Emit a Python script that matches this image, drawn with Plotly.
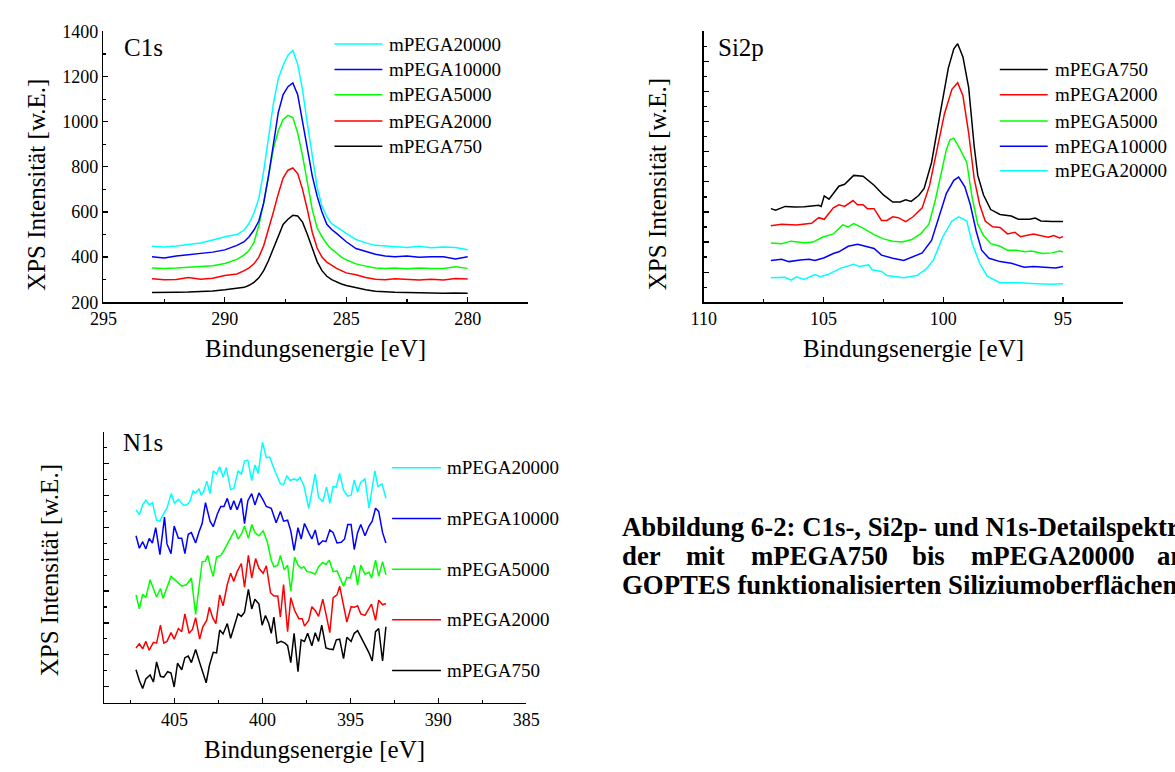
import plotly.graph_objects as go

W, H = 1175, 772
FONT = "Liberation Serif"

names = ["mPEGA750", "mPEGA2000", "mPEGA5000", "mPEGA10000", "mPEGA20000"]
colors = {"mPEGA750": "#000000", "mPEGA2000": "#ff0000", "mPEGA5000": "#00ff00",
          "mPEGA10000": "#0000ff", "mPEGA20000": "#00ffff"}

# ---------------- C1s ----------------
c1s_ev = [293.0, 292.5, 292.0, 291.5, 291.0, 290.5, 290.0, 289.5, 289.2, 289.0, 288.8, 288.6, 288.4,
          288.2, 288.0, 287.8, 287.6, 287.4, 287.2, 287.0, 286.8, 286.6, 286.4, 286.2, 286.0, 285.8,
          285.6, 285.4, 285.2, 285.0, 284.6, 284.2, 283.8, 283.4, 283.0, 282.5, 282.0, 281.5, 281.0,
          280.5, 280.0]
c1s_750 = [243, 242, 244, 245, 247, 250, 255, 260, 266, 275, 288, 308, 340, 385, 440, 498, 545, 568, 585,
           582, 555, 500, 440, 380, 340, 315, 300, 289, 281, 274, 264, 255, 249, 246, 244, 243, 241, 242,
           240, 241, 240]
c1s_2000 = [304, 300, 301, 310, 302, 306, 318, 325, 340, 352, 370, 400, 450, 520, 600, 680, 750, 785, 795,
            770, 700, 610, 510, 440, 400, 378, 362, 350, 340, 330, 322, 310, 302, 300, 304, 300, 298, 302,
            299, 305, 303]
c1s_5000 = [352, 350, 352, 355, 358, 362, 372, 390, 410, 430, 465, 540, 640, 770, 880, 960, 1010, 1028,
            1018, 950, 850, 730, 610, 530, 490, 458, 435, 418, 400, 388, 370, 360, 352, 350, 352, 348, 352,
            350, 350, 357, 350]
c1s_10000 = [402, 396, 405, 410, 415, 422, 432, 452, 468, 490, 520, 560, 640, 760, 900, 1040, 1120, 1155,
             1172, 1120, 1000, 880, 760, 670, 600, 545, 522, 505, 485, 468, 438, 425, 413, 405, 402, 405,
             399, 402, 402, 392, 402]
c1s_20000 = [448, 445, 449, 455, 462, 476, 490, 500, 520, 550, 595, 660, 780, 930, 1080, 1190, 1250, 1295,
             1316, 1255, 1140, 990, 850, 710, 625, 578, 548, 533, 518, 505, 478, 463, 452, 448, 445, 442,
             448, 441, 445, 442, 433]

# ---------------- Si2p (arbitrary units) ----------------
si_750_ev = [107.2, 107.0, 106.6, 106.2, 105.8, 105.2, 105.1, 104.97, 104.77, 104.36, 104.12, 103.74,
             103.35, 102.89, 102.5, 102.11, 101.8, 101.57, 101.34, 101.03, 100.8, 100.49, 100.18, 99.79,
             99.56, 99.4, 99.18, 98.94, 98.71, 98.56, 98.32, 98.02, 97.63, 97.16, 96.86, 96.4, 96.16,
             95.93, 95.46, 95.0]
si_750 = [6.22, 6.12, 6.37, 6.33, 6.35, 6.44, 6.37, 7.07, 6.85, 7.71, 7.84, 8.43, 8.38, 7.78, 7.13, 6.66,
          6.66, 6.81, 6.70, 7.09, 7.56, 9.29, 12.1, 15.56, 16.85, 17.18, 16.31, 14.26, 10.37, 8.43, 7.13,
          6.16, 5.83, 5.73, 5.51, 5.51, 5.6, 5.40, 5.36, 5.36]
si_2000_ev = [107.2, 106.75, 106.13, 105.5, 105.2, 104.97, 104.59, 104.36, 104.12, 103.77, 103.58, 103.35,
              103.17, 102.89, 102.58, 102.35, 102.11, 101.88, 101.57, 101.26, 100.88, 100.57, 100.26,
              99.95, 99.64, 99.4, 99.18, 98.94, 98.71, 98.48, 98.25, 97.94, 97.63, 97.32, 97.01, 96.78,
              96.24, 95.62, 95.39, 95.15, 95.0]
si_2000 = [5.08, 5.19, 5.14, 5.25, 5.62, 5.51, 6.27, 6.48, 6.37, 6.76, 6.48, 6.48, 6.22, 6.22, 5.44, 5.44,
           5.68, 5.62, 5.36, 5.68, 6.27, 7.78, 10.16, 12.53, 14.15, 14.59, 13.72, 11.24, 8.21, 6.48, 5.40,
           5.01, 4.97, 4.54, 4.65, 4.36, 4.54, 4.32, 4.43, 4.28, 4.36]
si_5000_ev = [107.2, 106.75, 106.36, 105.8, 105.44, 105.05, 104.59, 104.2, 103.97, 103.74, 103.35, 102.89,
              102.5, 102.11, 101.72, 101.34, 100.95, 100.6, 100.33, 100.1, 99.87, 99.72, 99.56, 99.33,
              99.02, 98.79, 98.56, 98.32, 98.02, 97.63, 97.32, 96.93, 96.62, 96.31, 95.85, 95.46, 95.15,
              95.0]
si_5000 = [3.93, 3.89, 4.06, 3.95, 4.0, 4.32, 4.54, 5.14, 5.01, 5.23, 4.93, 4.49, 4.21, 4.06, 4.0, 4.15,
           4.54, 5.19, 6.81, 8.43, 10.16, 10.80, 10.91, 10.26, 9.29, 6.91, 5.19, 4.43, 3.89, 3.72, 3.46,
           3.46, 3.35, 3.41, 3.24, 3.28, 3.41, 3.35]
si_10000_ev = [107.2, 106.75, 106.44, 105.98, 105.6, 105.36, 104.97, 104.59, 104.36, 103.97, 103.58,
               103.2, 102.89, 102.58, 102.11, 101.65, 101.34, 100.88, 100.49, 100.18, 99.87, 99.56, 99.36,
               99.1, 98.87, 98.63, 98.4, 98.09, 97.63, 97.16, 96.62, 96.24, 95.77, 95.31, 95.0]
si_10000 = [2.77, 2.85, 2.70, 2.81, 2.85, 2.77, 2.96, 3.24, 3.35, 3.72, 3.85, 3.67, 3.57, 3.13, 2.92, 2.77,
            2.98, 3.28, 4.11, 5.62, 7.24, 8.10, 8.32, 7.67, 6.48, 4.75, 3.46, 2.92, 2.70, 2.59, 2.33, 2.38,
            2.31, 2.27, 2.38]
si_20000_ev = [107.2, 106.6, 106.36, 106.13, 105.82, 105.36, 105.13, 104.82, 104.28, 103.74, 103.5,
               103.12, 102.97, 102.58, 102.35, 101.65, 101.1, 100.72, 100.41, 100.03, 99.64, 99.36, 99.02,
               98.79, 98.48, 98.17, 97.63, 96.86, 96.08, 95.46, 95.0]
si_20000 = [1.62, 1.66, 1.47, 1.69, 1.51, 1.84, 1.69, 1.84, 2.27, 2.53, 2.38, 2.48, 2.16, 2.05, 1.77, 1.62,
            1.77, 2.20, 2.81, 4.32, 5.40, 5.68, 5.40, 3.89, 2.59, 1.73, 1.30, 1.30, 1.23, 1.19, 1.23]

# ---------------- N1s (arbitrary units) ----------------
n_20000_ev = [407.19, 407.0, 406.81, 406.63, 406.44, 406.26, 406.02, 405.83, 405.65, 405.43,
              405.19, 405.0, 404.78, 404.5, 404.31, 404.13, 403.94, 403.8, 403.61, 403.48,
              403.35, 403.17, 402.98, 402.8, 402.61, 402.43, 402.24, 402.06, 401.81, 401.63,
              401.39, 401.2, 401.02, 400.83, 400.61, 400.43, 400.24, 400.0, 399.78, 399.59,
              399.31, 398.98, 398.8, 398.61, 398.43, 398.2, 398.02, 397.87, 397.65, 397.37,
              397.0, 396.81, 396.57, 396.35, 396.17, 395.98, 395.8, 395.61, 395.39, 395.15,
              394.96, 394.78, 394.59, 394.41, 394.17, 393.94, 393.61, 393.43, 393.2, 392.98]
n_20000 = [12.10, 11.80, 12.41, 12.71, 12.41, 12.55, 11.45, 11.39, 11.80, 12.20,
           13.12, 12.51, 12.76, 12.41, 12.41, 12.61, 13.29, 13.16, 13.43, 13.02,
           13.22, 13.90, 13.12, 14.55, 14.35, 14.80, 14.14, 14.76, 13.37, 13.43,
           14.55, 14.35, 15.16, 15.22, 13.94, 14.92, 14.39, 16.35, 15.37, 15.41,
           14.59, 13.73, 13.69, 14.24, 13.94, 14.04, 13.94, 14.14, 13.63, 12.20,
           14.35, 12.88, 12.61, 13.53, 12.51, 13.57, 13.53, 14.39, 13.33, 12.96,
           13.02, 13.98, 13.22, 13.84, 14.04, 12.20, 14.55, 13.57, 13.73, 12.82]
n_10000_ev = [407.19, 407.0, 406.81, 406.63, 406.44, 406.26, 406.07, 405.83, 405.57, 405.43,
              405.2, 405.02, 404.78, 404.59, 404.41, 404.22, 404.04, 403.8, 403.61, 403.43,
              403.24, 402.98, 402.8, 402.56, 402.37, 402.19, 402.0, 401.81, 401.63, 401.44,
              401.2, 401.02, 400.83, 400.61, 400.43, 400.2, 399.96, 399.78, 399.5, 399.22,
              398.98, 398.8, 398.57, 398.39, 398.2, 397.98, 397.8, 397.61, 397.37, 397.19,
              397.0, 396.81, 396.57, 396.39, 396.17, 395.98, 395.76, 395.52, 395.33, 395.15,
              394.96, 394.78, 394.59, 394.41, 394.17, 393.94, 393.76, 393.57, 393.39, 393.17, 392.98]
n_10000 = [10.47, 9.69, 10.10, 9.65, 10.31, 10.02, 10.98, 9.29, 11.65, 9.96,
           9.35, 11.08, 10.31, 10.31, 9.35, 10.57, 10.67, 10.02, 10.71, 11.24,
           12.55, 11.39, 11.04, 11.86, 12.31, 12.31, 12.82, 12.10, 12.67, 12.10,
           12.82, 11.24, 12.67, 13.12, 12.41, 13.16, 12.71, 12.31, 12.20, 11.29,
           12.0, 11.39, 11.45, 10.78, 9.55, 10.98, 10.27, 11.24, 10.67, 10.27,
           10.84, 9.90, 10.16, 10.10, 10.84, 10.67, 10.02, 10.06, 10.27, 11.18,
           11.18, 9.61, 10.67, 11.18, 10.47, 11.08, 11.39, 12.20, 12.0, 10.67, 10.02]
n_5000_ev = [407.19, 407.0, 406.81, 406.63, 406.39, 406.2, 406.02, 405.8, 405.65, 405.2,
             404.91, 404.59, 404.31, 404.04, 403.8, 403.57, 403.43, 403.24, 403.11, 402.98,
             402.8, 402.61, 402.37, 402.19, 402.0, 401.81, 401.57, 401.39, 401.2, 401.02,
             400.8, 400.61, 400.43, 400.2, 399.96, 399.72, 399.5, 399.35, 399.13, 398.98,
             398.76, 398.57, 398.39, 398.17, 397.98, 397.8, 397.65, 397.46, 397.24, 397.0,
             396.81, 396.57, 396.39, 396.2, 395.98, 395.76, 395.61, 395.39, 395.2, 395.02,
             394.78, 394.59, 394.41, 394.17, 393.94, 393.8, 393.57, 393.39, 393.17, 392.98]
n_5000 = [6.76, 5.88, 6.80, 6.59, 7.71, 7.20, 6.63, 7.16, 6.55, 7.92,
          7.61, 7.31, 7.41, 7.82, 5.53, 7.82, 8.84, 8.88, 9.24, 8.60,
          7.92, 9.14, 9.24, 9.55, 9.96, 10.27, 10.84, 10.27, 10.57, 11.08,
          10.31, 11.18, 10.67, 10.47, 10.78, 10.06, 8.94, 8.53, 8.63, 9.24,
          8.33, 8.63, 7.0, 9.14, 8.63, 8.43, 8.53, 8.22, 8.18, 8.06,
          8.53, 8.80, 8.67, 8.94, 8.22, 8.27, 7.92, 7.31, 7.86, 7.82,
          8.63, 7.37, 8.63, 8.06, 8.18, 7.82, 8.94, 7.92, 8.84, 8.02]
n_2000_ev = [407.19, 407.0, 406.81, 406.63, 406.44, 406.2, 406.02, 405.8, 405.61, 405.43,
             405.2, 405.02, 404.78, 404.59, 404.41, 404.17, 403.98, 403.8, 403.57, 403.39,
             403.17, 403.02, 402.83, 402.65, 402.43, 402.24, 402.0, 401.81, 401.63, 401.44,
             401.2, 401.02, 400.8, 400.61, 400.39, 400.2, 399.96, 399.78, 399.54, 399.35,
             399.13, 398.98, 398.8, 398.57, 398.39, 398.17, 397.93, 397.74, 397.61, 397.37,
             397.19, 397.0, 396.81, 396.57, 396.39, 396.17, 395.98, 395.76, 395.61, 395.39,
             395.2, 394.96, 394.78, 394.59, 394.41, 394.17, 393.94, 393.8, 393.57, 393.39, 393.17, 392.98]
n_2000 = [3.43, 3.69, 3.37, 3.84, 3.29, 3.78, 3.73, 4.86, 3.73, 3.84,
          4.39, 3.98, 4.65, 4.45, 5.57, 4.35, 4.59, 5.33, 3.98, 4.76,
          5.16, 5.98, 5.33, 4.96, 6.76, 6.08, 7.41, 8.12, 7.61, 8.22,
          8.73, 7.24, 9.24, 7.82, 9.04, 8.43, 8.12, 8.59, 6.90, 6.69,
          6.69, 5.37, 7.41, 4.45, 6.59, 5.78, 5.27, 5.27, 4.80, 5.16,
          6.02, 5.78, 5.41, 6.49, 5.57, 4.39, 6.59, 6.76, 7.31, 6.18,
          5.06, 6.02, 5.98, 6.08, 5.57, 5.47, 5.94, 6.18, 5.16, 6.43, 6.14, 6.22]
n_750_ev = [407.19, 407.0, 406.81, 406.63, 406.39, 406.2, 406.02, 405.8, 405.61, 405.39,
            405.2, 405.02, 404.83, 404.59, 404.41, 404.22, 404.04, 403.8, 403.57, 403.2,
            403.02, 402.8, 402.61, 402.43, 402.24, 402.0, 401.81, 401.63, 401.39, 401.2,
            401.02, 400.8, 400.61, 400.43, 400.2, 400.02, 399.83, 399.65, 399.5, 399.35,
            399.17, 398.94, 398.72, 398.57, 398.39, 398.2, 397.98, 397.8, 397.61, 397.43,
            397.19, 397.0, 396.81, 396.63, 396.39, 396.2, 395.98, 395.8, 395.61, 395.39,
            395.2, 394.96, 394.78, 394.59, 394.41, 394.17, 393.94, 393.76, 393.57, 393.39, 393.17, 392.98]
n_750 = [2.06, 1.39, 0.88, 1.49, 1.73, 1.29, 2.55, 1.65, 1.59, 1.94,
         1.86, 0.98, 2.47, 2.06, 2.82, 2.92, 2.51, 3.33, 2.51, 1.24,
         2.31, 3.16, 3.12, 4.55, 4.31, 4.96, 4.04, 4.76, 5.57, 5.41,
         5.67, 7.10, 5.88, 6.49, 6.18, 4.86, 5.47, 5.0, 4.35, 5.37,
         3.73, 3.84, 3.73, 3.57, 2.51, 4.35, 1.94, 3.94, 3.84, 4.35,
         3.57, 4.39, 3.84, 4.86, 3.43, 3.37, 3.33, 3.94, 3.98, 2.76,
         4.10, 3.84, 4.35, 4.51, 4.14, 3.63, 3.12, 2.61, 4.45, 4.65, 2.61, 4.76]

axis_title_x = "Bindungsenergie [eV]"
axis_title_y = "XPS Intensität [w.E.]"
caption_l1 = "Abbildung 6-2: C1s-, Si2p- und N1s-Detailspektren"
caption_l2 = ["der", "mit", "mPEGA750", "bis", "mPEGA20000", "an"]
caption_l3 = "GOPTES funktionalisierten Siliziumoberflächen."


def px(x):
    return x / W


def py(y):
    return 1 - y / H


fig = go.Figure()


def add(xs, ys, name, xa, ya):
    fig.add_trace(go.Scatter(x=xs, y=ys, mode="lines", name=name,
                             line=dict(color=colors[name], width=1.5),
                             xaxis=xa, yaxis=ya, showlegend=False))


add(c1s_ev, c1s_750, "mPEGA750", "x", "y")
add(c1s_ev, c1s_2000, "mPEGA2000", "x", "y")
add(c1s_ev, c1s_5000, "mPEGA5000", "x", "y")
add(c1s_ev, c1s_10000, "mPEGA10000", "x", "y")
add(c1s_ev, c1s_20000, "mPEGA20000", "x", "y")

add(si_20000_ev, si_20000, "mPEGA20000", "x2", "y2")
add(si_10000_ev, si_10000, "mPEGA10000", "x2", "y2")
add(si_5000_ev, si_5000, "mPEGA5000", "x2", "y2")
add(si_2000_ev, si_2000, "mPEGA2000", "x2", "y2")
add(si_750_ev, si_750, "mPEGA750", "x2", "y2")

add(n_750_ev, n_750, "mPEGA750", "x3", "y3")
add(n_2000_ev, n_2000, "mPEGA2000", "x3", "y3")
add(n_5000_ev, n_5000, "mPEGA5000", "x3", "y3")
add(n_10000_ev, n_10000, "mPEGA10000", "x3", "y3")
add(n_20000_ev, n_20000, "mPEGA20000", "x3", "y3")

tickfont = dict(family=FONT, size=18, color="black")


def axis(**kw):
    d = dict(showline=True, linecolor="black", linewidth=1.5, ticks="inside", ticklen=5,
             tickwidth=1.2, tickcolor="black", showgrid=False, zeroline=False, mirror=False,
             tickfont=tickfont, fixedrange=True)
    d.update(kw)
    return d


def minor(dt, t0=None):
    m = dict(ticks="inside", ticklen=3, tickwidth=1.2, tickcolor="black", showgrid=False, dtick=dt)
    if t0 is not None:
        m["tick0"] = t0
    return m


fig.update_layout(
    width=W, height=H, autosize=False,
    margin=dict(l=0, r=0, t=0, b=0),
    paper_bgcolor="white", plot_bgcolor="white",
    font=dict(family=FONT, color="black"),
    showlegend=False,
    xaxis=axis(domain=[px(91.5), px(526.5)], anchor="y", range=[295, 277.5], tick0=280, dtick=5,
               minor=minor(2.5)),
    yaxis=axis(domain=[py(300), py(22)], anchor="x", range=[200, 1400], tick0=200, dtick=200,
               minor=minor(100)),
    xaxis2=axis(domain=[px(706), px(1135)], anchor="y2", range=[110, 92.5], tick0=95, dtick=5,
                minor=minor(2.5)),
    yaxis2=axis(domain=[py(300), py(22)], anchor="x2", range=[0, 18], tick0=0, dtick=2,
                showticklabels=False, minor=minor(1, 0)),
    xaxis3=axis(domain=[px(92.3), px(524.3)], anchor="y3", range=[409, 385], tick0=385, dtick=5,
                minor=minor(2.5)),
    yaxis3=axis(domain=[py(711), py(433)], anchor="x3", range=[0, 17], tick0=1, dtick=2,
                showticklabels=False, minor=minor(1, 0)),
)

annotations = []
shapes = []


def text(x, y, s, size, xanchor="left", angle=0):
    annotations.append(dict(x=px(x), y=py(y), xref="paper", yref="paper", text=s, showarrow=False,
                            xanchor=xanchor, yanchor="middle", textangle=angle,
                            font=dict(family=FONT, size=size, color="black")))


# panel labels
text(111, 39, "C1s", 25)
text(719, 39, "Si2p", 25)
text(110, 444, "N1s", 25)

# axis titles
text(309, 348, axis_title_x, 25, "center")
text(921, 348, axis_title_x, 25, "center")
text(308, 759, axis_title_x, 25, "center")
text(23, 179, axis_title_y, 25, "center", -90)
text(659, 179, axis_title_y, 25, "center", -90)
text(36, 575, axis_title_y, 25, "center", -90)


# legends (drawn manually so the sample lines have the reference length)
def legend(entries, x0, x1, xt, ys):
    for name, y in zip(entries, ys):
        shapes.append(dict(type="line", xref="paper", yref="paper", x0=px(x0), x1=px(x1),
                           y0=py(y), y1=py(y), line=dict(color=colors[name], width=1.5)))
        text(xt, y, name, 19)


legend(["mPEGA20000", "mPEGA10000", "mPEGA5000", "mPEGA2000", "mPEGA750"],
       328, 377, 382, [35, 61, 87, 114, 140])
legend(["mPEGA750", "mPEGA2000", "mPEGA5000", "mPEGA10000", "mPEGA20000"],
       1009, 1058, 1063, [61, 87, 114, 140, 165])
legend(["mPEGA20000", "mPEGA10000", "mPEGA5000", "mPEGA2000", "mPEGA750"],
       387, 437, 441, [470, 522, 574, 626, 678])

# caption (justified second line -> words placed individually)
CAP = 26.8
text(620, 531, "<b>" + caption_l1 + "</b>", CAP)
for word, x in zip(caption_l2, [620, 686, 752, 917, 977, 1168]):
    text(x, 560.5, "<b>" + word + "</b>", CAP)
text(620, 590, "<b>" + caption_l3 + "</b>", CAP)

fig.update_layout(annotations=annotations, shapes=shapes)

fig.write_html(
    "out.html",
    config={"displayModeBar": False, "staticPlot": True},
    post_script="document.body.style.margin='0';document.body.style.padding='0';"
                "document.body.style.overflow='hidden';",
)
